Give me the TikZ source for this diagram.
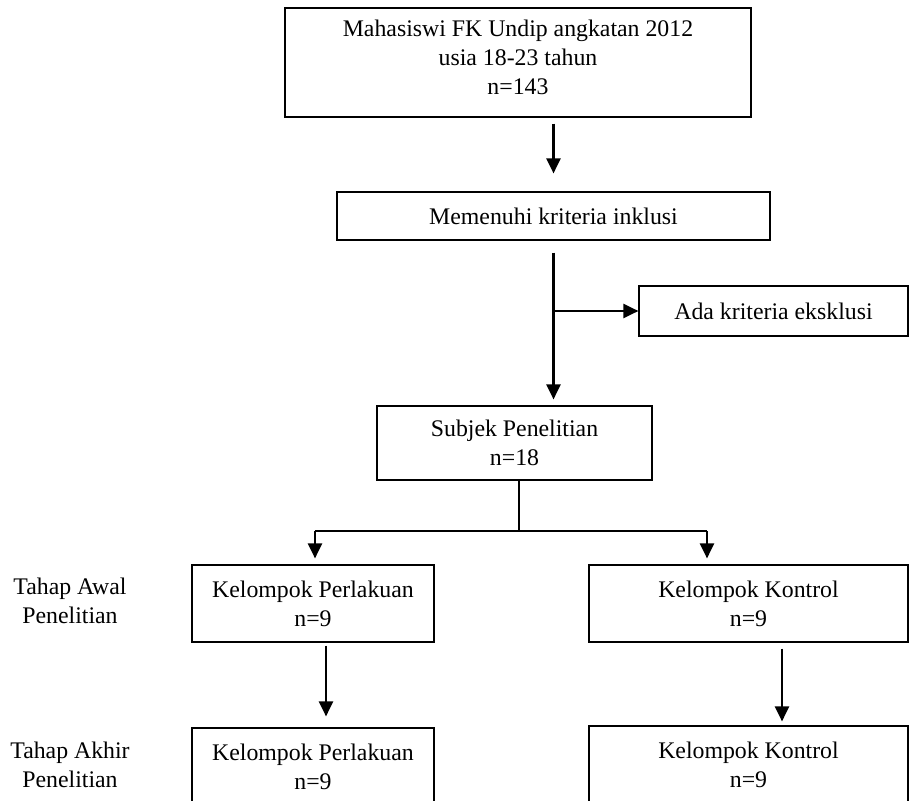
\documentclass[tikz,border=0pt]{standalone}
\usepackage{fontspec}
\setmainfont{Liberation Serif}
\usetikzlibrary{positioning,arrows.meta,calc}

\begin{document}
\begin{tikzpicture}[
  x=1pt, y=-1pt,
  font=\fontsize{23.8}{29}\selectfont,
  box/.style={draw, line width=1.2pt, align=center, inner sep=0pt},
  arr/.style={-{Triangle[length=15pt,width=14pt]}, line width=2.2pt},
  tree/.style={line width=1.1pt},
]
\useasboundingbox (0,0) rectangle (909,800);
\clip (0,0) rectangle (909,800);
\node[box, minimum width=466pt, minimum height=109pt] (pop) at (518,62.5)
  {Mahasiswi FK Undip angkatan 2012\\usia 18-23 tahun\\n=143\\[-19pt]};
\node[box, minimum width=433pt, minimum height=48pt] (incl) at (553.5,216)
  {Memenuhi kriteria inklusi};
\node[box, minimum width=269pt, minimum height=50pt] (excl) at (773.5,311)
  {Ada kriteria eksklusi};
\node[box, minimum width=275pt, minimum height=74pt] (subj) at (514.5,443)
  {Subjek Penelitian\\n=18};
\node[box, minimum width=242pt, minimum height=77pt] (treatA) at (313,603.5)
  {Kelompok Perlakuan\\n=9};
\node[box, minimum width=319pt, minimum height=77pt] (ctrlA) at (748.5,603.5)
  {Kelompok Kontrol\\n=9};
\node[box, minimum width=242pt, minimum height=77pt] (treatB) at (313,766.5)
  {Kelompok Perlakuan\\n=9};
\node[box, minimum width=319pt, minimum height=77pt] (ctrlB) at (748.5,764.5)
  {Kelompok Kontrol\\n=9};
\node[align=center] (stageA) at (70,601) {Tahap Awal\\Penelitian};
\node[align=center] (stageB) at (70,765) {Tahap Akhir\\Penelitian};
% connectors
\draw[arr, shorten <=6pt, shorten >=18pt] (pop.south -| incl.center) -- (incl.north);
\draw[arr, shorten <=12pt, shorten >=6pt] (incl.south) -- (incl.south |- subj.north);
\draw[arr] (incl.south |- excl.west) -- (excl.west);
\coordinate (split) at (519,531);
\coordinate (left) at (315,531);
\coordinate (right) at (707,531);
\draw[tree] (split |- subj.south) -- (split);
\draw[tree] (left) -- (right);
\draw[arr, shorten >=6pt] (left) -- (left |- treatA.north);
\draw[arr, shorten >=6pt] (right) -- (right |- ctrlA.north);
\draw[arr, shorten <=3pt, shorten >=11pt] ([xshift=13pt]treatA.south) -- ([xshift=13pt]treatA.south |- treatB.north);
\draw[arr, shorten <=6pt, shorten >=4pt] ([xshift=33.5pt]ctrlA.south) -- ([xshift=33.5pt]ctrlA.south |- ctrlB.north);
\end{tikzpicture}
\end{document}
